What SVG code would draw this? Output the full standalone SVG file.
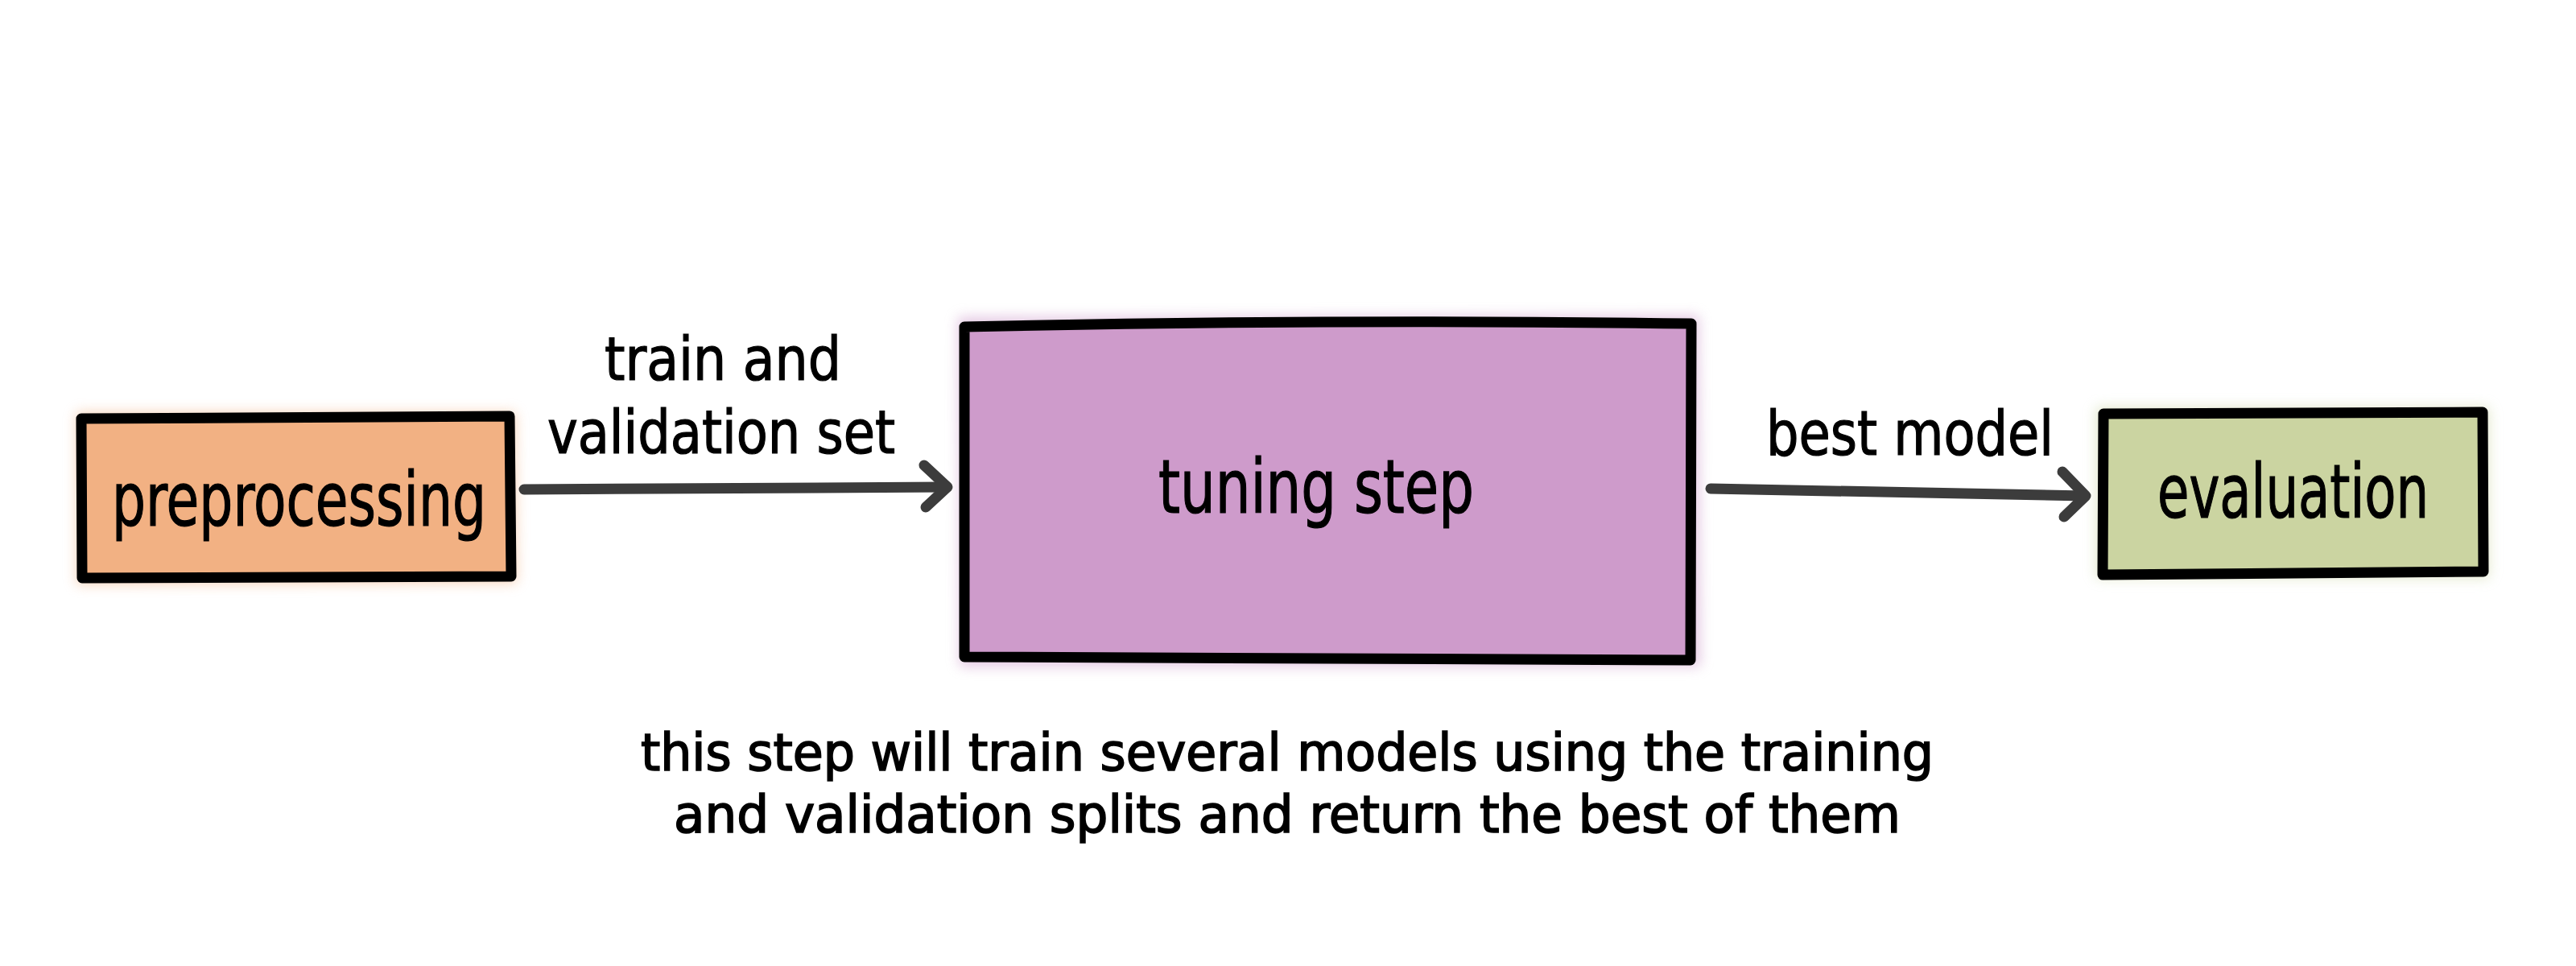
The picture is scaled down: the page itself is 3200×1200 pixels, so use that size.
<svg xmlns="http://www.w3.org/2000/svg" width="3200" height="1200" viewBox="0 0 3200 1200">
<style>
.box{stroke:#000;stroke-width:13;stroke-linejoin:round}
.glow{filter:url(#soft);opacity:0.55}
.t{font-family:"Liberation Sans Narrow","DejaVu Sans Condensed","Liberation Sans",sans-serif;fill:#000;stroke:#000;stroke-width:1.2;font-size:92px}
.lbl{font-size:76px}
.sm{font-size:74px}
.note{font-size:64px;stroke-width:1.6}
.conn{fill:none;stroke:#3c3c3c;stroke-width:13;stroke-linecap:round;stroke-linejoin:round}
</style>
<defs>
<filter id="soft" x="-10%" y="-20%" width="120%" height="140%"><feGaussianBlur stdDeviation="8"/></filter>
</defs>
<rect width="3200" height="1200" fill="#fff"/>
<g id="preprocessing">
<path class="glow" d="M95 512 L640 512 L642 724 L95 726 Z" fill="#F2B183"/>
<path class="box" d="M101 520 L633 517 L635 716 L102 718 Z" fill="#F2B183"/>
<text class="t" x="139" y="653" textLength="465" lengthAdjust="spacingAndGlyphs">preprocessing</text>
</g>
<g id="tuning">
<path class="glow" d="M1190 394 L2110 392 L2112 828 L1192 828 Z" fill="#CE9BCB"/>
<path class="box" d="M1198 406 Q1650 396 2101 402 L2100 820 L1198 816 Z" fill="#CE9BCB"/>
<text class="t" x="1439" y="637" textLength="392" lengthAdjust="spacingAndGlyphs">tuning step</text>
</g>
<g id="evaluation">
<path class="glow" d="M2604 506 L3092 506 L3092 718 L2604 718 Z" fill="#CBD4A1"/>
<path class="box" d="M2613 514 L3084 512 L3085 710 L2612 714 Z" fill="#CBD4A1"/>
<text class="t" x="2680" y="643" textLength="337" lengthAdjust="spacingAndGlyphs">evaluation</text>
</g>
<g id="connectors">
<path class="conn" d="M651 608 L1176 605"/>
<path class="conn" d="M1148 578 L1177 605 L1150 630"/>
<path class="conn" d="M2125 607 L2590 616"/>
<path class="conn" d="M2562 586 L2591 616 L2564 642"/>
</g>
<g id="labels">
<text class="t sm" x="751" y="472" textLength="294" lengthAdjust="spacingAndGlyphs">train and</text>
<text class="t sm" x="680" y="563" textLength="432" lengthAdjust="spacingAndGlyphs">validation set</text>
<text class="t lbl" x="2194" y="565" textLength="357" lengthAdjust="spacingAndGlyphs">best model</text>
<text class="t note" x="796" y="957" textLength="1606" lengthAdjust="spacingAndGlyphs">this step will train several models using the training</text>
<text class="t note" x="837" y="1034" textLength="1524" lengthAdjust="spacingAndGlyphs">and validation splits and return the best of them</text>
</g>
</svg>
